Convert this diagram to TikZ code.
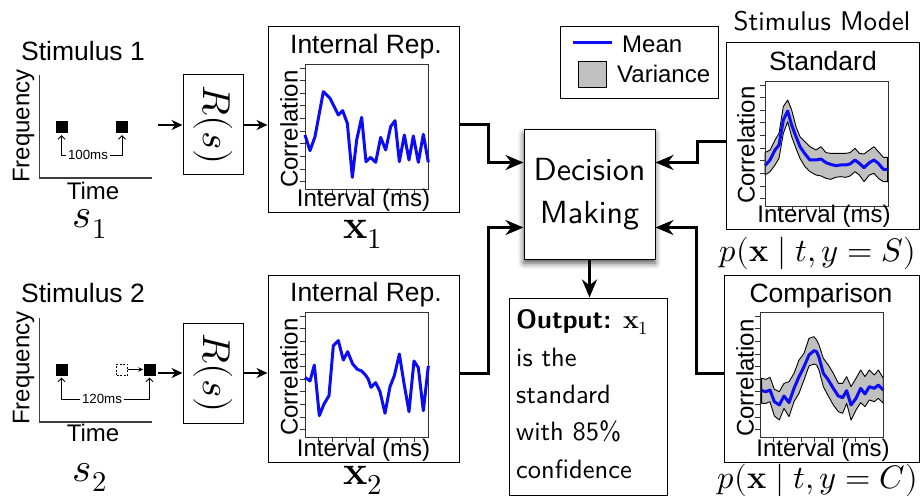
\documentclass[tikz,border=0pt]{standalone}
\usepackage{fontspec}
\usepackage{unicode-math}
\setmathfont{Latin Modern Math}
\newfontfamily\helv{Liberation Sans}
% the 10pt design of Latin Modern Sans, scaled up
\newfontfamily\lmsans{lmsans10-regular}[Extension=.otf, BoldFont=lmsans10-bold]
\usetikzlibrary{arrows.meta,shadows.blur}

\definecolor{bandgray}{RGB}{192,192,192}
\definecolor{curveblue}{RGB}{12,12,245}

\tikzset{
  helvtext/.style={font=\helv\fontsize{24}{28}\selectfont, inner sep=0pt},
  titletext/.style={font=\helv\fontsize{26.5}{30}\selectfont, inner sep=0pt},
  smalltext/.style={font=\helv\fontsize{13.3}{15}\selectfont, inner sep=1.5pt},
  mathlabel/.style={font=\fontsize{41}{48}\selectfont, inner sep=0pt},
  problabel/.style={font=\fontsize{32.5}{38}\selectfont, inner sep=0pt},
  rfunc/.style={font=\fontsize{39}{46}\selectfont, inner sep=0pt, rotate=-90},
  lmtext/.style={font=\lmsans\fontsize{26.5}{32}\selectfont, inner sep=0pt, anchor=base west},
  plainbox/.style={draw, line width=1pt, inner sep=0pt},
  tone/.style={fill=black, minimum size=12pt, inner sep=0pt},
  ghost/.style={draw, line width=0.8pt, dash pattern=on 2pt off 1.5pt, minimum size=11pt, inner sep=0pt},
  flow/.style={line width=3pt, -{Stealth[length=18pt,width=15pt]}},
  feed/.style={line width=2pt, -{Stealth[length=11pt,width=10pt]}},
  marker/.style={line width=0.9pt, -{Straight Barb[length=3.5pt,width=7pt]}},
  axisline/.style={line width=1.3pt, black!75},
  frameline/.style={line width=0.9pt, black!80},
  meanline/.style={line width=3pt, curveblue, line join=round},
  band/.style={fill=bandgray, draw=black, line width=0.9pt, line join=round},
}

% plot frame with its tick marks; arguments: top-left corner
\newcommand\plotaxes[2]{%
  \draw[frameline] (#1,#2) rectangle ++(123,125.5);
  \foreach \k in {0,...,9}
    \draw[frameline] (#1-5,#2+4+12.65*\k) -- (#1,#2+4+12.65*\k);
  \foreach \k in {1,...,8}
    \draw[frameline] (#1+13.7*\k,#2+125.5) -- ++(0,4.5);
}

\begin{document}
\begin{tikzpicture}[x=1pt,y=-1pt]
\useasboundingbox (0,0) rectangle (922,500);

% ---------------- Stimulus 1 ----------------
\node[titletext] (st1) at (83,51.5) {Stimulus 1};
\draw[axisline] (39.5,75) -- (39.5,178) -- (152,178);
\node[helvtext, rotate=90] (fq1) at (23.5,126) {Frequency};
\node[helvtext] (tm1) at (93,191) {Time};
\node[tone] (a1) at (61.5,127) {};
\node[tone] (b1) at (122,127) {};
\node[smalltext] (g1) at (88,155) {100ms};
\draw[marker] (g1.west) -| ([yshift=-2pt]a1.south);
\draw[marker] (g1.east) -| ([yshift=-2pt]b1.south);
\node[mathlabel] (s1) at (90,224) {$s_1$};

\coordinate (in1) at (158,125);
\node[plainbox, minimum width=60pt, minimum height=100pt] (r1) at (213,125) {};
\node[rfunc] (r1t) at (r1.center) {$R(s)$};
\draw[feed] (in1) -- (r1.west);

% ---------------- Stimulus 2 ----------------
\node[titletext] (st2) at (83,293) {Stimulus 2};
\draw[axisline] (39.5,318) -- (39.5,422) -- (152,422);
\node[helvtext, rotate=90] (fq2) at (23.5,368) {Frequency};
\node[helvtext] (tm2) at (93,433) {Time};
\node[tone] (a2) at (61.5,369.5) {};
\node[ghost] (d2) at (122,369.5) {};
\node[tone] (b2) at (149.5,369.5) {};
\draw[line width=0.9pt, -{Stealth[length=5pt,width=4.5pt]}] (d2.east) -- (b2.west);
\node[smalltext] (g2) at (102,399) {120ms};
\draw[marker] (g2.west) -| ([yshift=-2pt]a2.south);
\draw[marker] (g2.east) -| ([yshift=-2pt]b2.south);
\node[mathlabel] (s2) at (90,477.5) {$s_2$};

\coordinate (in2) at (158,373);
\node[plainbox, minimum width=60pt, minimum height=100pt] (r2) at (213,373) {};
\node[rfunc] (r2t) at (r2.center) {$R(s)$};
\draw[feed] (in2) -- (r2.west);

% ---------------- Internal representation 1 ----------------
\node[plainbox, minimum width=191pt, minimum height=186pt] (ir1) at (363.5,120) {};
\draw[feed] (r1.east) -- (r1.east -| ir1.west);
\node[titletext] (irt1) at (366,47) {Internal Rep.};
\plotaxes{305}{64}
\node[helvtext, rotate=90] (c1) at (289,129) {Correlation};
\node[helvtext] (iv1) at (363.5,200) {Interval (ms)};
\begin{scope}[shift={(260,0)}, scale=1/3]
  \draw[meanline] plot coordinates {(135,405) (150,452) (165,410) (190,275) (210,295)
    (235,345) (248,332) (262,370) (277,532) (290,420) (305,352) (318,485) (332,472)
    (347,487) (362,412) (377,450) (392,380) (405,362) (418,485) (433,405) (447,480)
    (460,408) (475,487) (490,403) (505,487)};
\end{scope}
\node[mathlabel] (x1) at (363,234) {$\mathbf{x}_1$};

% ---------------- Internal representation 2 ----------------
\node[plainbox, minimum width=191pt, minimum height=187pt] (ir2) at (363.5,368.5) {};
\draw[feed] (r2.east) -- (r2.east -| ir2.west);
\node[titletext] (irt2) at (366,295) {Internal Rep.};
\plotaxes{305}{312}
\node[helvtext, rotate=90] (c2) at (289,377) {Correlation};
\node[helvtext] (iv2) at (363.5,450) {Interval (ms)};
\begin{scope}[shift={(260,250)}, scale=1/3]
  \draw[meanline] plot coordinates {(135,382) (150,393) (163,345) (178,497) (192,462)
    (207,437) (220,287) (235,272) (250,330) (263,305) (278,342) (292,358) (305,363)
    (318,377) (325,388) (333,412) (347,398) (360,425) (375,490) (390,410) (403,377)
    (418,312) (432,400) (447,485) (462,333) (475,353) (490,482) (505,348)};
\end{scope}
\node[mathlabel] (x2) at (363,480) {$\mathbf{x}_2$};

% ---------------- Legend ----------------
\node[plainbox, minimum width=158pt, minimum height=72pt] (leg) at (639,63) {};
\draw[meanline] (573,43) -- (612,43);
\node[helvtext, anchor=west] (lm) at (622,44) {Mean};
\node[draw, fill=bandgray, line width=0.9pt, minimum width=28pt, minimum height=26pt, inner sep=0pt] (lv) at (592,74) {};
\node[helvtext, anchor=west] (lvt) at (617,74) {Variance};

% ---------------- Decision and output ----------------
\node[plainbox, fill=white, minimum width=131pt, minimum height=129pt,
      blur shadow={shadow xshift=0pt, shadow yshift=-4pt, shadow blur radius=6pt, shadow opacity=70},
      align=center, font=\lmsans\fontsize{32}{43}\selectfont] (dm) at (589.5,194.5) {Decision\\Making};

\node[plainbox, minimum width=158pt, minimum height=197pt] (out) at (588,396.5) {};
\node[lmtext] (o1) at (516,328) {{\bfseries Output:} $\mathbf{x}_1$};
\node[lmtext] (o2) at (516,366) {is the};
\node[lmtext] (o3) at (516,403) {standard};
\node[lmtext] (o4) at (516,440.5) {with 85\%};
\node[lmtext] (o5) at (516,478) {confidence};

% ---------------- Stimulus model ----------------
\node[font=\lmsans\fontsize{27}{32}\selectfont, inner sep=0pt] (sm) at (822,21.5) {Stimulus Model};

\node[plainbox, minimum width=193pt, minimum height=187pt] (sb) at (822.5,136.5) {};
\node[titletext] (sbt) at (823,61.5) {Standard};
\begin{scope}[shift={(710,0)}, scale=1/3]
  \draw[band] (165,458) -- (180,450) -- (195,420) -- (207,400) -- (220,320) -- (233,300)
    -- (245,330) -- (258,380) -- (270,410) -- (285,425) -- (300,440) -- (318,450)
    -- (333,440) -- (348,458) -- (362,460) -- (377,460) -- (392,460) -- (407,460)
    -- (420,458) -- (435,445) -- (448,460) -- (462,462) -- (478,450) -- (492,440)
    -- (505,455) -- (520,472) -- (533,472)
    -- (533,545) -- (520,545) -- (505,535) -- (492,520) -- (478,525) -- (462,545)
    -- (448,525) -- (435,515) -- (420,528) -- (407,532) -- (392,530) -- (377,532)
    -- (362,538) -- (348,535) -- (333,528) -- (318,525) -- (300,515) -- (285,500)
    -- (270,475) -- (258,445) -- (245,410) -- (233,365) -- (220,400) -- (207,475)
    -- (195,495) -- (180,515) -- (165,525) -- cycle;
  \draw[meanline] plot coordinates {(165,497) (180,480) (195,450) (207,435) (220,360)
    (233,333) (245,375) (258,410) (270,440) (285,462) (300,480) (318,480) (333,477)
    (348,488) (362,493) (377,497) (392,495) (407,495) (420,492) (435,480) (448,490)
    (462,503) (478,488) (492,480) (505,490) (520,508) (533,508)};
\end{scope}
\plotaxes{765}{81}
\node[helvtext, rotate=90] (c3) at (746,145) {Correlation};
\node[helvtext] (iv3) at (824,216) {Interval (ms)};
\node[problabel] (ps) at (818,253) {$p(\mathbf{x}\mid t,y=S)$};

\node[plainbox, minimum width=195pt, minimum height=187pt] (cb) at (821.5,368.5) {};
\node[titletext] (cbt) at (821,296) {Comparison};
\begin{scope}[shift={(710,270)}, scale=1/3]
  \draw[band] (155,325) -- (168,328) -- (180,322) -- (193,358) -- (208,365) -- (222,340)
    -- (237,335) -- (252,310) -- (267,270) -- (282,250) -- (297,205) -- (312,200)
    -- (320,210) -- (327,225) -- (340,265) -- (355,285) -- (370,310) -- (385,340)
    -- (398,340) -- (410,320) -- (423,350) -- (438,325) -- (452,300) -- (465,320)
    -- (478,300) -- (493,315) -- (505,300) -- (520,325)
    -- (520,400) -- (505,385) -- (493,395) -- (478,390) -- (465,410) -- (452,398)
    -- (438,420) -- (423,450) -- (410,400) -- (398,430) -- (385,425) -- (370,405)
    -- (355,378) -- (340,350) -- (327,300) -- (320,285) -- (312,282) -- (297,288)
    -- (282,330) -- (267,370) -- (252,395) -- (237,440) -- (222,415) -- (208,450)
    -- (193,438) -- (180,395) -- (168,400) -- (155,400) -- cycle;
  \draw[meanline] plot coordinates {(155,362) (168,365) (180,360) (193,395) (208,405)
    (222,378) (237,398) (252,355) (267,320) (282,290) (297,255) (312,242) (320,245)
    (327,262) (340,310) (355,330) (370,355) (385,378) (398,383) (410,362) (423,405)
    (438,385) (452,355) (465,372) (478,350) (493,355) (505,345) (520,360)};
\end{scope}
\plotaxes{760}{312}
\node[helvtext, rotate=90] (c4) at (745,378) {Correlation};
\node[helvtext] (iv4) at (823,450) {Interval (ms)};
\node[problabel] (pc) at (818,480) {$p(\mathbf{x}\mid t,y=C)$};

% ---------------- Connectors into the decision ----------------
\draw[flow] (ir1.east |- r1.east) -- ++(29,0) |- ([yshift=32pt]dm.west);
\draw[flow] (ir2.east |- r2.east) -- ++(29,0) |- ([yshift=-33pt]dm.west);
\draw[flow] ([yshift=-5pt]sb.west) -- ++(-28,0) |- ([yshift=32pt]dm.east);
\draw[flow] ([yshift=-5pt]cb.west) -- ++(-27,0) |- ([yshift=-33pt]dm.east);
\draw[flow] (dm.south) -- (dm.south |- out.north);
\end{tikzpicture}
\end{document}
